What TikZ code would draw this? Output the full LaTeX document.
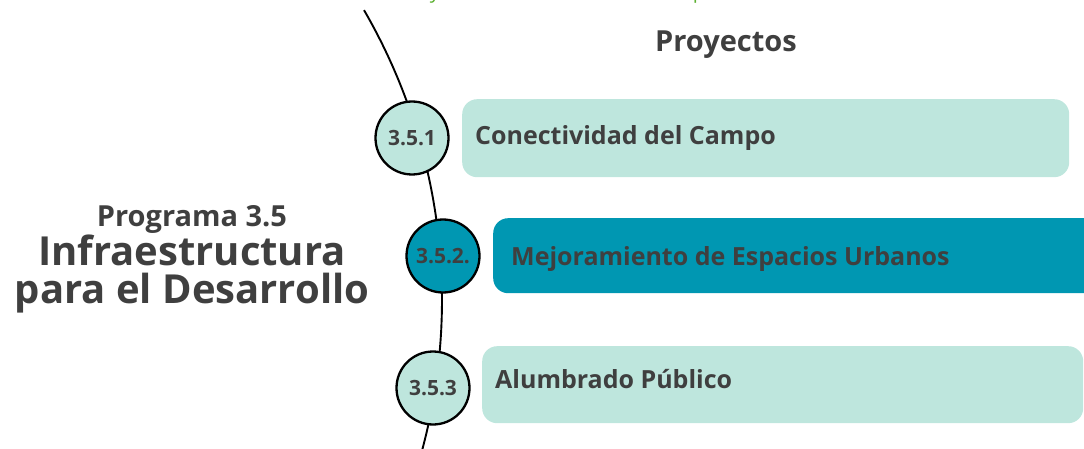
\documentclass[tikz,border=0pt]{standalone}
\usepackage{fontspec}
\setmainfont{Open Sans}
\definecolor{txt}{HTML}{3F3F3F}
\definecolor{lite}{HTML}{BEE6DD}
\definecolor{dark}{HTML}{0097B2}
\definecolor{grn}{HTML}{5CB031}
\begin{document}
\begin{tikzpicture}[x=1pt,y=-1pt,
  bub/.style={circle, draw=black, line width=2.3pt, minimum size=73pt, inner sep=0pt,
    font=\bfseries\fontsize{21}{21}\selectfont, text=txt},
  boxl/.style={rectangle, rounded corners=15pt, fill=lite, draw=none, anchor=north west, inner sep=0pt},
  boxd/.style={boxl, fill=dark},
  lbl/.style={anchor=base west, font=\bfseries\fontsize{25}{25}\selectfont, text=txt, inner sep=0pt},
  ttl/.style={anchor=base, text=txt, inner sep=0pt},
  spine/.style={line width=1.9pt, black}
  ]
\useasboundingbox (0,0) rectangle (1084,449);
% cut-off green heading fragments
\node[anchor=base, inner sep=0pt, text=grn, font=\fontsize{20}{20}\selectfont] (gy) at (435,-1) {y};
\node[anchor=base, inner sep=0pt, text=grn, font=\fontsize{20}{20}\selectfont] (gp) at (699,-1) {p};
% boxes
\node[boxl, minimum width=607pt, minimum height=78pt] (b1) at (462,99) {};
\node[boxd, minimum width=620pt, minimum height=75pt] (b2) at (493,218) {};
\node[boxl, minimum width=601pt, minimum height=77pt] (b3) at (482,346) {};
% spine
\coordinate (top) at (364,10);
\coordinate (bot) at (423,449);
\draw[spine] plot[domain=-30.1:15, samples=80, smooth] ({-136+578*cos(\x)},{300+578*sin(\x)});
% circles
\node[bub, fill=lite] (c1) at (412,138) {3.5.1};
\node[bub, fill=dark] (c2) at (443,256) {3.5.2.};
\node[bub, fill=lite] (c3) at (433,388) {3.5.3};
% labels
\node[lbl] (t1) at (475,145) {Conectividad del Campo};
\node[lbl] (t2) at (511,265) {Mejoramiento de Espacios Urbanos};
\node[lbl] (t3) at (495,388) {Alumbrado Público};
\node[ttl, font=\bfseries\fontsize{29}{29}\selectfont] (proy) at (726,52) {Proyectos};
\node[ttl, font=\bfseries\fontsize{29}{29}\selectfont] (prog) at (192,226) {Programa 3.5};
\node[ttl, font=\bfseries\fontsize{40}{40}\selectfont] (inf) at (192,265) {Infraestructura};
\node[ttl, font=\bfseries\fontsize{40}{40}\selectfont] (des) at (192,303) {para el Desarrollo};
\end{tikzpicture}
\end{document}
